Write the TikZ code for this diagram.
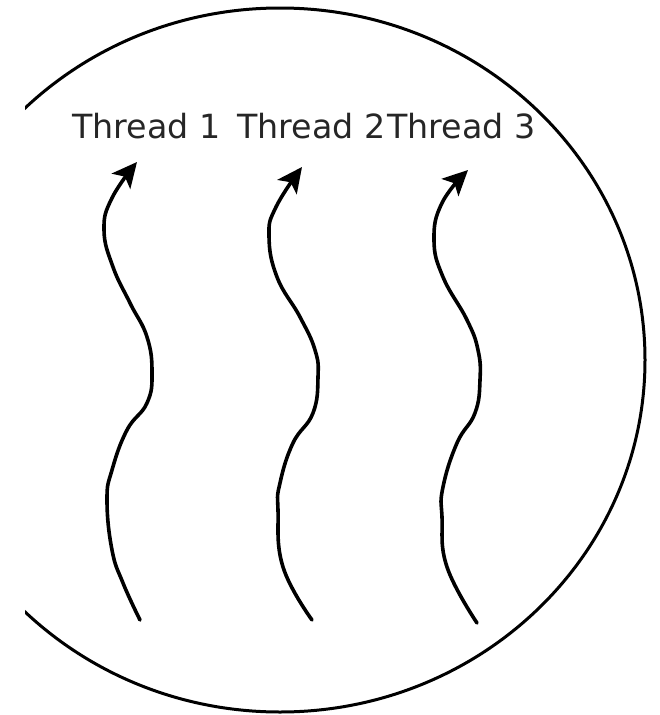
\documentclass[tikz,border=0pt]{standalone}
\usepackage{fontspec}
\setmainfont{DejaVu Sans}
\usetikzlibrary{arrows.meta}
\tikzset{
  threadline/.style={line width=3.6pt, line cap=round, -{Stealth[length=25pt,width=24pt,inset=6pt]}},
  label/.style={anchor=base west, inner sep=0pt, font=\fontsize{33.3}{36}\selectfont, text=black!85}
}
\begin{document}
\begin{tikzpicture}[x=1pt,y=-1pt]
\useasboundingbox (0,0) rectangle (659,715);
\begin{scope}
\clip (25,0) rectangle (659,715);
\draw[line width=3pt] (280,360) ellipse [x radius=365, y radius=352];
\end{scope}
\node[label] (t1) at (72,138) {Thread 1};
\node[label] (t2) at (237,138) {Thread 2};
\node[label] (t3) at (387,138) {Thread 3};
\draw[threadline] plot[smooth, tension=0.75] coordinates {(140,620) (123,583) (112,550) (107,500) (112,470) (127,430) (147,403) (152,373) (147,337) (130,303) (113,267) (104,230) (112,198) (137,162)};
\draw[threadline] plot[smooth, tension=0.75] coordinates {(312,620) (283,567) (278,510) (280,483) (293,443) (313,413) (318,377) (315,350) (300,317) (277,277) (269,236) (276,207) (302,167)};
\draw[threadline] plot[smooth, tension=0.75] coordinates {(477,623) (447,567) (442,517) (443,487) (457,443) (475,413) (480,380) (478,350) (467,320) (443,277) (434,240) (442,203) (468,170)};
\end{tikzpicture}
\end{document}
